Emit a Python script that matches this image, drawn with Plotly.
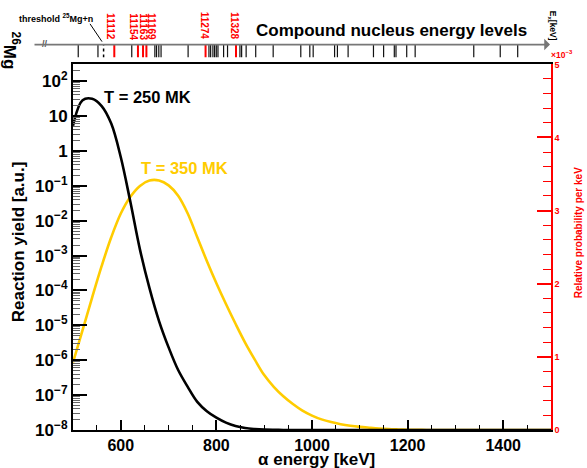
import plotly.graph_objects as go

# ---------------------------------------------------------------- data
# alpha energy grid (keV), 20 keV steps
energy = list(range(500, 1501, 20))

# relative probability per keV (x 1e-3) on the energy grid
prob_250 = [4.16, 4.51, 4.53, 4.43, 4.19, 3.73, 3.12, 2.47, 1.94, 1.49,
            1.13, 0.82, 0.59, 0.385, 0.257, 0.169, 0.101, 0.054, 0.027, 0.0135,
            0.0054, 0.002, 0.0007,
            0, 0, 0, 0, 0, 0, 0, 0, 0, 0, 0, 0, 0, 0, 0, 0, 0, 0, 0, 0,
            0, 0, 0, 0, 0, 0, 0, 0]
prob_350 = [0.923, 1.365, 1.811, 2.243, 2.635, 2.960, 3.189, 3.338, 3.412, 3.412,
            3.345, 3.203, 2.960, 2.635, 2.311, 2.007, 1.723, 1.453, 1.196, 0.966,
            0.751, 0.591, 0.461, 0.355, 0.265, 0.197, 0.145, 0.108, 0.080, 0.059,
            0.043, 0.031, 0.020, 0.012, 0.0074, 0.0041, 0.0020, 0.0009, 0.0004,
            0, 0, 0, 0, 0, 0, 0, 0, 0, 0, 0, 0]

# 26Mg compound-nucleus levels (excitation energy, keV)
levels_other = [11048, 11083, 11143, 11184, 11187, 11191, 11195, 11243, 11280,
                11283, 11287, 11290, 11293, 11296, 11306, 11313, 11335, 11338,
                11346, 11363, 11394, 11443, 11459, 11465, 11503, 11508, 11527,
                11572, 11590, 11609, 11612, 11631, 11646, 11750, 11797, 11828]
levels_marked = [11112, 11154, 11163, 11169, 11274, 11328]
neutron_threshold = 11093

y_tick_vals = [1e-8, 1e-7, 1e-6, 1e-5, 1e-4, 1e-3, 1e-2, 1e-1, 1, 10, 100]
y_tick_text = ["10<sup>\u22128</sup>", "10<sup>\u22127</sup>", "10<sup>\u22126</sup>",
               "10<sup>\u22125</sup>", "10<sup>\u22124</sup>", "10<sup>\u22123</sup>",
               "10<sup>\u22122</sup>", "10<sup>\u22121</sup>", "1", "10",
               "10<sup>2</sup>"]
x_tick_vals = [600, 800, 1000, 1200, 1400]
y2_tick_vals = [0, 1, 2, 3, 4, 5]

# ---------------------------------------------------------------- layout helpers
W, H = 587, 468
ML, MR, MT, MB = 73, 36, 5, 38
PW = W - ML - MR
PH = H - MT - MB


def px(x):
    return (x - ML) / PW


def py(y):
    return (H - MB - y) / PH


FONT = "Liberation Sans"
GOLD = "#FFCC00"
RED = "#FF0000"
MAIN_DOMAIN = [0, py(60)]

fig = go.Figure()

# empty trace so the log-scaled yield axis gets its own subplot
fig.add_trace(go.Scatter(x=[], y=[], xaxis="x", yaxis="y", mode="lines",
                         showlegend=False, hoverinfo="skip"))

fig.add_trace(go.Scatter(
    x=energy, y=[v * 1e-3 for v in prob_350], xaxis="x", yaxis="y2",
    mode="lines", line=dict(color=GOLD, width=2.6, shape="spline", smoothing=1),
    showlegend=False, hoverinfo="skip"))
fig.add_trace(go.Scatter(
    x=energy, y=[v * 1e-3 for v in prob_250], xaxis="x", yaxis="y2",
    mode="lines", line=dict(color="black", width=2.6, shape="spline", smoothing=1),
    showlegend=False, hoverinfo="skip"))


def level_xy(levels):
    xs, ys = [], []
    for e in levels:
        xs += [e, e, None]
        ys += [0, 1, None]
    return xs, ys


lx, ly = level_xy(levels_other)
fig.add_trace(go.Scatter(x=lx, y=ly, xaxis="x2", yaxis="y3", mode="lines",
                         line=dict(color="#111111", width=1.2),
                         showlegend=False, hoverinfo="skip"))
lx, ly = level_xy(levels_marked)
fig.add_trace(go.Scatter(x=lx, y=ly, xaxis="x2", yaxis="y3", mode="lines",
                         line=dict(color=RED, width=2),
                         showlegend=False, hoverinfo="skip"))
lx, ly = level_xy([neutron_threshold])
fig.add_trace(go.Scatter(x=lx, y=ly, xaxis="x2", yaxis="y3", mode="lines",
                         line=dict(color="black", width=1.5, dash="3px,3px"),
                         showlegend=False, hoverinfo="skip"))

# ---------------------------------------------------------------- annotations
ann = []


def text(x, y, s, size, color="black", angle=0, xanchor="center",
         yanchor="middle", bold=True):
    ann.append(dict(x=px(x), y=py(y), xref="paper", yref="paper", text=s,
                    showarrow=False, textangle=angle, xanchor=xanchor,
                    yanchor=yanchor,
                    font=dict(family=FONT, size=size, color=color,
                              weight="bold" if bold else "normal")))


text(147.5, 93.5, "T = 250 MK", 16.5)
text(184, 165, "T = 350 MK", 16.5, GOLD)
text(391, 26, "Compound nucleus energy levels", 17)
text(12, 46, "<sup>26</sup>Mg", 17, angle=90)
text(17, 13, "threshold <sup>25</sup>Mg+n", 9, xanchor="left")
text(552, 21, "E<sub>x</sub>[keV]", 8.5, angle=90)
text(45, 39, "//", 9, color="#555555")
text(562, 50, "\u00d710<sup>\u22123</sup>", 8.5, RED)
text(18, 240, "Reaction yield [a.u.]", 17, angle=-90)
text(316, 460, "\u03b1 energy [keV]", 17)
text(578, 231, "Relative probability per keV", 10, RED, angle=-90)

label_shift = [-3.8, -4.7, 0.3, 5.3, -1.1, -0.8]
for e, dx in zip(levels_marked, label_shift):
    ann.append(dict(x=e, xref="x2", y=py(37.5), yref="paper", text=str(e),
                    showarrow=False, textangle=90, xshift=dx,
                    xanchor="center", yanchor="bottom",
                    font=dict(family=FONT, size=10, color=RED, weight="bold")))

# excitation-energy axis with arrow
ann.append(dict(x=px(550), y=py(40), xref="paper", yref="paper", text="",
                showarrow=True, ax=33 - 550, ay=0, axref="pixel", ayref="pixel",
                arrowhead=1, arrowsize=1.2, arrowwidth=1.6, arrowcolor="#777777",
                standoff=0, startstandoff=0))

shapes = [dict(type="line", xref="paper", yref="paper",
               x0=px(90), y0=py(19), x1=px(102), y1=py(37),
               line=dict(color="black", width=1))]

# minor ticks of the log axis
minor_log = [m * 10 ** k for k in range(-8, 3) for m in range(2, 10)]

fig.update_layout(
    width=W, height=H,
    margin=dict(l=ML, r=MR, t=MT, b=MB, pad=0),
    paper_bgcolor="white", plot_bgcolor="white",
    font=dict(family=FONT, color="black"),
    showlegend=False,
    annotations=ann, shapes=shapes,
    xaxis=dict(range=[500, 1500], showgrid=False, zeroline=False,
               showline=True, linecolor="black", linewidth=2, mirror=True,
               ticks="inside", ticklen=10, tickwidth=1.5, tickcolor="black",
               tickvals=x_tick_vals,
               tickfont=dict(family=FONT, size=16, weight="bold"),
               minor=dict(ticks="inside", ticklen=5, tickwidth=1.2,
                          tickcolor="black", dtick=50, tick0=500),
               anchor="y"),
    yaxis=dict(type="log", range=[-8, 2.48], domain=MAIN_DOMAIN,
               showgrid=False, zeroline=False, showline=True,
               linecolor="black", linewidth=2,
               ticks="inside", ticklen=14, tickwidth=1.5, tickcolor="black",
               tickvals=y_tick_vals, ticktext=y_tick_text,
               tickfont=dict(family=FONT, size=17, weight="bold"),
               minor=dict(ticks="inside", ticklen=7, tickwidth=1,
                          tickcolor="#666666", tickvals=minor_log),
               anchor="x"),
    yaxis2=dict(range=[0, 5e-3], overlaying="y", side="right",
                domain=MAIN_DOMAIN,
                showgrid=False, zeroline=False, showline=True,
                linecolor=RED, linewidth=1.6,
                ticks="inside", ticklen=14, tickwidth=1.5, tickcolor=RED,
                tickvals=[v * 1e-3 for v in y2_tick_vals],
                ticktext=[str(v) for v in y2_tick_vals],
                tickfont=dict(family=FONT, size=9, color=RED, weight="bold"),
                minor=dict(ticks="inside", ticklen=8, tickwidth=1.2,
                           tickcolor=RED, dtick=0.2e-3, tick0=0),
                anchor="x"),
    xaxis2=dict(range=[11038.7, 11887.1], overlaying="x", visible=False,
                anchor="y3"),
    yaxis3=dict(range=[0, 1], domain=[py(53), py(40)], visible=False,
                anchor="x2"),
)

fig.write_html("out.html")
